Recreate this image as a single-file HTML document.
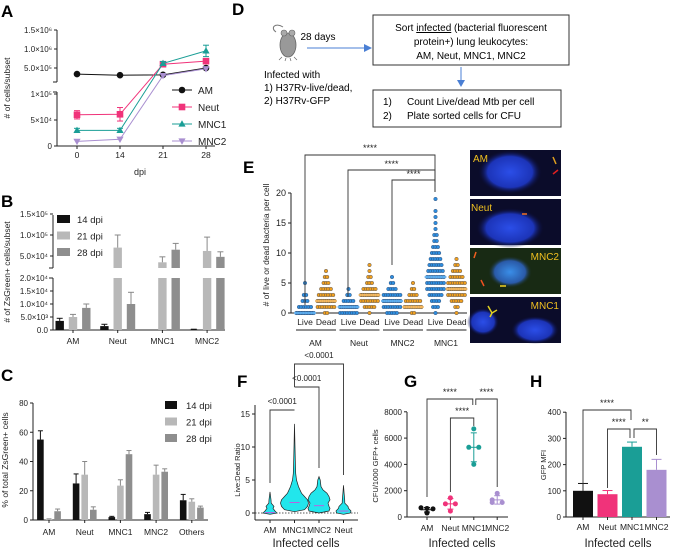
<!DOCTYPE html>
<html><head><meta charset="utf-8"><style>
html,body{margin:0;padding:0;background:#fff;}
svg{display:block;font-family:"Liberation Sans",Arial,sans-serif;}
</style></head><body>
<svg id="fig" width="673" height="548" viewBox="0 0 673 548" xmlns="http://www.w3.org/2000/svg">
<defs>
<radialGradient id="blob" cx="50%" cy="50%" r="50%"><stop offset="0" stop-color="#2b4ee8"/><stop offset="0.7" stop-color="#1c34b8"/><stop offset="1" stop-color="#0a0a30" stop-opacity="0"/></radialGradient>
<radialGradient id="blob2" cx="50%" cy="50%" r="50%"><stop offset="0" stop-color="#3a8ee8"/><stop offset="0.7" stop-color="#2a5aa8"/><stop offset="1" stop-color="#1a2a18" stop-opacity="0"/></radialGradient>
</defs>
<text x="1" y="17" font-size="17" font-weight="bold">A</text>
<text x="1" y="207" font-size="17" font-weight="bold">B</text>
<text x="1" y="381" font-size="17" font-weight="bold">C</text>
<text x="232" y="15" font-size="17" font-weight="bold">D</text>
<text x="243" y="173" font-size="17" font-weight="bold">E</text>
<text x="237" y="387" font-size="17" font-weight="bold">F</text>
<text x="404" y="387" font-size="17" font-weight="bold">G</text>
<text x="530" y="387" font-size="17" font-weight="bold">H</text>

<text transform="translate(10,88) rotate(-90)" font-size="8.5" text-anchor="middle" fill="#222"># of cells/subset</text>
<text x="140" y="175" font-size="9" text-anchor="middle" fill="#222">dpi</text>
<text transform="translate(10,272) rotate(-90)" font-size="8.5" text-anchor="middle" fill="#222"># of ZsGreen+ cells/subset</text>
<text transform="translate(8,460) rotate(-90)" font-size="8.5" text-anchor="middle" fill="#222">% of total ZsGreen+ cells</text>
<text transform="translate(269,245) rotate(-90)" font-size="8.5" text-anchor="middle" fill="#222"># of live or dead bacteria per cell</text>
<text transform="translate(240,470) rotate(-90)" font-size="7.5" text-anchor="middle" fill="#222">Live:Dead Ratio</text>
<text x="306" y="547" font-size="11.5" text-anchor="middle" fill="#222">Infected cells</text>
<text transform="translate(378,466) rotate(-90)" font-size="7.5" text-anchor="middle" fill="#222">CFU/1000  GFP+ cells</text>
<text x="462" y="547" font-size="11.5" text-anchor="middle" fill="#222">Infected cells</text>
<text transform="translate(546,465) rotate(-90)" font-size="7.5" text-anchor="middle" fill="#222">GFP MFI</text>
<text x="618" y="547" font-size="11.5" text-anchor="middle" fill="#222">Infected cells</text>

<g>
<path d="M283,27 C275,22 270,28 276,32" fill="none" stroke="#777" stroke-width="1"/>
<ellipse cx="288" cy="45" rx="8" ry="12" fill="#999" stroke="#666" stroke-width="0.8"/>
<circle cx="284" cy="33" r="3" fill="#aaa" stroke="#666" stroke-width="0.6"/>
<circle cx="292" cy="33" r="3" fill="#aaa" stroke="#666" stroke-width="0.6"/>
<path d="M282,57 l-3,3 M286,58 l-1,3 M290,58 l1,3 M294,57 l3,3" stroke="#666" stroke-width="0.7"/>
</g>
<text x="318" y="40" font-size="10" text-anchor="middle">28 days</text>
<line x1="307" y1="48" x2="366" y2="48" stroke="#4a7fd4" stroke-width="1"/>
<polygon points="372,48 364,44 364,52" fill="#4a7fd4"/>
<text x="264" y="78" font-size="10">Infected with</text>
<text x="264" y="91" font-size="10">1) H37Rv-live/dead,</text>
<text x="264" y="104" font-size="10">2) H37Rv-GFP</text>
<rect x="373" y="15" width="196" height="50" fill="#fff" stroke="#333" stroke-width="1"/>
<text x="471" y="31" font-size="10" text-anchor="middle">Sort <tspan text-decoration="underline">infected</tspan> (bacterial fluorescent</text>
<text x="471" y="45" font-size="10" text-anchor="middle">protein+) lung leukocytes:</text>
<text x="471" y="59" font-size="10" text-anchor="middle">AM, Neut, MNC1, MNC2</text>
<line x1="461" y1="67" x2="461" y2="81" stroke="#4a7fd4" stroke-width="1"/>
<polygon points="461,87 457,80 465,80" fill="#4a7fd4"/>
<rect x="373" y="90" width="188" height="37" fill="#fff" stroke="#333" stroke-width="1"/>
<text x="383" y="105" font-size="10">1)</text>
<text x="407" y="105" font-size="10">Count Live/dead Mtb per cell</text>
<text x="383" y="119" font-size="10">2)</text>
<text x="407" y="119" font-size="10">Plate sorted cells for CFU</text>

<g>
<rect x="470" y="150" width="91" height="46" fill="#0b0c2a"/>
<ellipse cx="510" cy="172" rx="32" ry="22" fill="url(#blob)"/>
<line x1="553" y1="157" x2="556" y2="164" stroke="#e0a020" stroke-width="1.5"/>
<line x1="553" y1="174" x2="558" y2="170" stroke="#e02020" stroke-width="1.5"/>
<text x="473" y="162" font-size="10" fill="#f0c020">AM</text>
</g>
<g>
<rect x="470" y="199" width="91" height="46" fill="#0b0c2a"/>
<ellipse cx="510" cy="228" rx="34" ry="20" fill="url(#blob)"/>
<line x1="522" y1="214" x2="527" y2="214" stroke="#f07020" stroke-width="1.5"/>
<text x="471" y="211" font-size="10" fill="#f0c020">Neut</text>
</g>
<g>
<rect x="470" y="248" width="91" height="46" fill="#182a14"/>
<ellipse cx="510" cy="272" rx="22" ry="16" fill="url(#blob2)"/>
<line x1="474" y1="258" x2="476" y2="252" stroke="#f06020" stroke-width="1.5"/>
<line x1="500" y1="286" x2="506" y2="286" stroke="#f0d020" stroke-width="1.5"/>
<line x1="481" y1="280" x2="484" y2="286" stroke="#f05020" stroke-width="1.5"/>
<text x="559" y="260" font-size="10" fill="#f0c020" text-anchor="end">MNC2</text>
</g>
<g>
<rect x="470" y="297" width="91" height="46" fill="#0b0c2a"/>
<ellipse cx="483" cy="322" rx="16" ry="14" fill="url(#blob)"/>
<ellipse cx="535" cy="330" rx="24" ry="14" fill="url(#blob)"/>
<path d="M488,306 l4,7 l5,-3 M492,313 l-2,4" stroke="#e0d020" stroke-width="1.5" fill="none"/>
<text x="559" y="309" font-size="10" fill="#f0c020" text-anchor="end">MNC1</text>
</g>
</svg>
<script>
// Panel A
const aDays = ['0','14','21','28'];
const aAM = [340000, 310000, 320000, 500000];
const aNeut = [60000, 61000, 600000, 680000];
const aNeutErr = [8000, 13000, 40000, 40000];
const aMNC1 = [30000, 30000, 620000, 950000];
const aMNC1Err = [4000, 4000, 50000, 150000];
const aMNC2 = [9000, 13000, 300000, 480000];
const aTicksLow = [0, 50000, 100000];
const aTicksLowLabels = ['0', '5×10⁴', '1×10⁵'];
const aTicksHigh = [500000, 1000000, 1500000];
const aTicksHighLabels = ['5.0×10⁵', '1.0×10⁶', '1.5×10⁶'];
const aSeriesNames = ['AM', 'Neut', 'MNC1', 'MNC2'];
// Panel B
const bCats = ['AM', 'Neut', 'MNC1', 'MNC2'];
const bDays = ['14 dpi', '21 dpi', '28 dpi'];
const b14 = [3500, 1500, 0, 200];
const b14Err = [1000, 700, 0, 100];
const b21 = [5000, 70000, 35000, 62000];
const b21Err = [1000, 30000, 13000, 33000];
const b28 = [8500, 10000, 65000, 48000];
const b28Err = [1500, 4500, 15000, 12000];
const bTicksLow = [0, 5000, 10000, 15000, 20000];
const bTicksLowLabels = ['0.0', '5.0×10³', '1.0×10⁴', '1.5×10⁴', '2.0×10⁴'];
const bTicksHigh = [50000, 100000, 150000];
const bTicksHighLabels = ['5.0×10⁴', '1.0×10⁵', '1.5×10⁵'];
// Panel C
const cCats = ['AM', 'Neut', 'MNC1', 'MNC2', 'Others'];
const c14 = [55, 25, 2, 4, 13.5];
const c14Err = [6, 6.5, 0.5, 1.2, 4];
const c21 = [0.5, 31, 23.5, 31, 12.5];
const c21Err = [0.3, 9, 4, 6.5, 2];
const c28 = [6, 7, 45, 33, 8.5];
const c28Err = [1.5, 2, 2.5, 2, 1];
const cTicks = [0, 20, 40, 60, 80];
// Panel E
const eGroups = ['AM', 'Neut', 'MNC2', 'MNC1'];
const eLiveCounts = [
  {0:12,1:6,2:3,3:2,5:1},
  {0:8,1:10,2:5,3:2,4:1},
  {0:5,1:8,2:10,3:8,4:4,5:2,6:1},
  {0:1,1:3,2:4,3:6,4:8,5:8,6:8,7:7,8:6,9:5,10:4,11:3,12:2,13:2,14:1,15:1,16:1,17:1,19:1}
];
const eDeadCounts = [
  {0:2,1:8,2:10,3:7,4:5,5:3,6:2,7:1},
  {0:1,1:5,2:8,3:10,4:6,5:3,6:2,7:1,8:1},
  {0:2,1:8,2:7,3:4,4:2,5:1},
  {0:1,1:2,2:5,3:8,4:10,5:8,6:6,7:4,8:2,9:1}
];
const eLiveMedian = [0, 1, 2, 6];
const eDeadMedian = [2, 3, 1, 4];
const eTicks = [0, 5, 10, 15, 20];
// Panel F
const fCats = ['AM', 'MNC1', 'MNC2', 'Neut'];
const fVals = [
  [-0.2, 0, 0.3, 0.7, 1, 1.5, 2, 3.2],
  [0.2, 0.5, 1, 1.5, 2, 2.5, 3, 4, 5, 6, 8, 10, 13.5],
  [0, 0.3, 0.7, 1, 1.5, 2, 2.5, 3, 3.5, 4, 5, 5.5],
  [-0.2, 0, 0.3, 0.7, 1, 1.5, 2, 3, 4.2]
];
const fDensity = [
  [0, 7, 5, 3, 4, 1.2, 1, 0],
  [0, 10, 13, 14, 13, 10, 7, 4, 2, 1.2, 0.8, 0.5, 0],
  [0, 10, 11, 10, 9, 11, 10, 8, 4, 2, 1.2, 0],
  [0, 7, 7.5, 5, 4.5, 1.3, 1.2, 0.6, 0]
];
const fMedian = [0.05, 1.6, 1.1, 0.3];
const fTicks = [0, 5, 10, 15];
// Panel G
const gCats = ['AM', 'Neut', 'MNC1', 'MNC2'];
const gPoints = [[700, 620, 650, 300], [1450, 1000, 1000, 450], [6700, 5300, 5300, 4000], [1800, 1300, 1100, 1100]];
const gMean = [550, 1000, 5300, 1300];
const gSD = [170, 400, 1100, 320];
const gTicks = [0, 2000, 4000, 6000, 8000];
// Panel H
const hCats = ['AM', 'Neut', 'MNC1', 'MNC2'];
const hVals = [100, 87, 268, 180];
const hErr = [28, 14, 18, 40];
const hTicks = [0, 100, 200, 300, 400];

const NS = 'http://www.w3.org/2000/svg';
const svg = document.getElementById('fig');
function mk(tag, a, p) { const e = document.createElementNS(NS, tag); for (const k in a) e.setAttribute(k, a[k]); (p || svg).appendChild(e); return e; }
function tx(str, x, y, size, anchor, p) { const t = mk('text', {x: x, y: y, 'font-size': size, 'text-anchor': anchor || 'middle', fill: '#222'}, p); t.textContent = str; return t; }
function grp(name) { const g = mk('g', {});   return g; }
function ln(x1, y1, x2, y2, p, col, w) { return mk('line', {x1: x1, y1: y1, x2: x2, y2: y2, stroke: col || '#222', 'stroke-width': w || 1}, p); }
function yAxis(p, x, vals, labels, yf, y0, y1, fs) {
  ln(x, y0, x, y1, p);
  vals.forEach((v, i) => { ln(x - 3, yf(v), x, yf(v), p); const t = tx(labels[i], x - 5, yf(v) + 3, fs || 8, 'end', p);   });
}
function errBar(p, x, y, yTop, col, hw) { ln(x, y, x, yTop, p, col); ln(x - hw, yTop, x + hw, yTop, p, col); }
function bracket(p, x1, x2, y, yl1, yl2, label, ly) {
  mk('path', {d: `M${x1},${yl1} L${x1},${y} L${x2},${y} L${x2},${yl2}`, fill: 'none', stroke: '#333', 'stroke-width': 0.9}, p);
  const t = tx(label, (x1 + x2) / 2, ly, label[0] === '<' ? 8 : 9, 'middle', p);
   
}

// PANEL A
(function () {
  const g = grp('panel-a-chart');
  const xA = i => 77 + i * 43;
  const yA = v => v <= 100000 ? 146 - v / 100000 * 52 : 68 - (v - 500000) / 500000 * 19;
  yAxis(g, 57, aTicksHigh, aTicksHighLabels, yA, 30, 82);
  ln(53, 82, 57, 82, g);
  yAxis(g, 57, aTicksLow, aTicksLowLabels, yA, 92, 146);
  ln(53, 92, 57, 92, g);
  ln(57, 146, 215, 146, g);
  aDays.forEach((d, i) => { ln(xA(i), 146, xA(i), 149, g); const t = tx(d, xA(i), 158, 8.5, 'middle', g);   });
  const series = [[aAM, null, '#111', 'circle'], [aNeut, aNeutErr, '#f0337a', 'square'], [aMNC1, aMNC1Err, '#1a9e96', 'tri'], [aMNC2, null, '#a98fd0', 'itri']];
  function marker(p, shape, x, y, col) {
    if (shape === 'circle') return mk('circle', {cx: x, cy: y, r: 3.3, fill: col}, p);
    if (shape === 'square') return mk('rect', {x: x - 3.3, y: y - 3.3, width: 6.6, height: 6.6, fill: col}, p);
    if (shape === 'tri') return mk('polygon', {points: `${x},${y - 3.8} ${x - 3.6},${y + 2.6} ${x + 3.6},${y + 2.6}`, fill: col}, p);
    return mk('polygon', {points: `${x},${y + 3.8} ${x - 3.6},${y - 2.6} ${x + 3.6},${y - 2.6}`, fill: col}, p);
  }
  series.forEach((s, si) => {
    const sg = mk('g', {}, g);
    
    
    const pts = s[0].map((v, i) => `${xA(i)},${yA(v)}`).join(' ');
    mk('polyline', {points: pts, fill: 'none', stroke: s[2], 'stroke-width': 1}, sg);
    s[0].forEach((v, i) => {
      if (s[1]) { errBar(sg, xA(i), yA(v), yA(v + s[1][i]), s[2], 3); errBar(sg, xA(i), yA(v), yA(Math.max(0, v - s[1][i])), s[2], 3); }
      const m = marker(sg, s[3], xA(i), yA(v), s[2]);
      
      
    });
    const ly = 90 + si * 17;
    const lg = mk('g', {}, g);
    
    
    ln(172, ly, 192, ly, lg, s[2]);
    marker(lg, s[3], 182, ly, s[2]);
    tx(aSeriesNames[si], 198, ly + 4, 10, 'start', lg);
  });
})();

// PANEL B
(function () {
  const g = grp('panel-b-chart');
  const yLow = v => 330 - Math.min(v, 20000) / 20000 * 52;
  const yHigh = v => 256 - (v - 50000) / 50000 * 21;
  const yB = v => v <= 20000 ? yLow(v) : yHigh(v);
  yAxis(g, 53, bTicksHigh, bTicksHighLabels, yHigh, 215, 268);
  ln(49, 268, 53, 268, g);
  yAxis(g, 53, bTicksLow, bTicksLowLabels, yLow, 278, 330);
  ln(49, 278, 53, 278, g);
  ln(53, 330, 225, 330, g);
  const cols = ['#111', '#b8b8b8', '#8e8e8e'];
  const data = [[b14, b14Err], [b21, b21Err], [b28, b28Err]];
  bCats.forEach((c, ci) => {
    const cx = 73 + ci * 44.7;
    ln(cx, 330, cx, 333, g);
    const t = tx(c, cx, 344, 8.5, 'middle', g);  
    data.forEach((d, di) => {
      const v = d[0][ci], e = d[1][ci], x = cx + (di - 1) * 13.3 - 4.2;
      const top = yB(v);
      if (v > 20000) {
        const r1 = mk('rect', {x: x, y: 278, width: 8.4, height: 52, fill: cols[di]}, g);
         
        const r2 = mk('rect', {x: x, y: top, width: 8.4, height: 268 - top, fill: cols[di]}, g);
         
      } else {
        const r = mk('rect', {x: x, y: top, width: 8.4, height: 330 - top, fill: cols[di]}, g);
         
      }
      if (e > 0) errBar(g, x + 4.2, top, yB(v + e), cols[di] === '#111' ? '#111' : '#888', 3);
    });
  });
  bDays.forEach((d, di) => {
    const lg = mk('g', {}, g);
    
    
    mk('rect', {x: 57, y: 215 + di * 16.5, width: 13, height: 8, fill: cols[di]}, lg);
    tx(d, 77, 223 + di * 16.5, 9.5, 'start', lg);
  });
})();

// PANEL C
(function () {
  const g = grp('panel-c-chart');
  const yC = v => 520 - v / 80 * 117;
  yAxis(g, 33, cTicks, cTicks.map(String), yC, 403, 520);
  ln(33, 520, 208, 520, g);
  const cols = ['#111', '#b8b8b8', '#8e8e8e'];
  const data = [[c14, c14Err], [c21, c21Err], [c28, c28Err]];
  cCats.forEach((c, ci) => {
    const cx = 49 + ci * 35.7;
    ln(cx, 520, cx, 523, g);
    const t = tx(c, cx, 535, 8.5, 'middle', g);  
    data.forEach((d, di) => {
      const v = d[0][ci], e = d[1][ci], x = cx + (di - 1) * 8.6 - 3.3;
      const r = mk('rect', {x: x, y: yC(v), width: 6.6, height: 520 - yC(v), fill: cols[di]}, g);
       
      errBar(g, x + 3.3, yC(v), yC(v + e), cols[di] === '#111' ? '#111' : '#888', 2.5);
    });
  });
  ['14 dpi', '21 dpi', '28 dpi'].forEach((d, di) => {
    const lg = mk('g', {}, g);
    
    
    mk('rect', {x: 165, y: 401 + di * 16.5, width: 12, height: 8, fill: cols[di]}, lg);
    tx(d, 186, 409 + di * 16.5, 9.5, 'start', lg);
  });
})();

// PANEL E
(function () {
  const g = grp('panel-e-chart');
  const yE = v => 313 - v * 6;
  yAxis(g, 291, eTicks, eTicks.map(String), yE, 193, 313, 9);
  ln(291, 313, 467, 313, g);
  const liveCol = '#2f8fe0', deadCol = '#f0a020';
  function column(cx, counts, col, med, name) {
    const cg = mk('g', {}, g);
    
    
    Object.keys(counts).forEach(k => {
      const v = +k, n = counts[k];
      const sp = Math.min(2.4, 19 / Math.max(n, 1));
      for (let j = 0; j < n; j++) mk('circle', {cx: cx + (j - (n - 1) / 2) * sp, cy: yE(v), r: 1.8, fill: col, stroke: '#1a2a4a', 'stroke-width': 0.35}, cg);
    });
    ln(cx - 11, yE(med), cx + 11, yE(med), cg, col === liveCol ? '#6ab8f5' : '#f8c070', 1.5);
  }
  eGroups.forEach((gname, gi) => {
    const xl = 305 + gi * 43.5, xd = xl + 21;
    column(xl, eLiveCounts[gi], liveCol, eLiveMedian[gi], 'dots-live-' + gname.toLowerCase());
    column(xd, eDeadCounts[gi], deadCol, eDeadMedian[gi], 'dots-dead-' + gname.toLowerCase());
    [['Live', xl], ['Dead', xd]].forEach(p => { const t = tx(p[0], p[1], 325, 8.5, 'middle', g);   });
    ln(xl - 9, 330, xd + 10, 330, g);
    const t = tx(gname, (xl + xd) / 2, 346, 8.5, 'middle', g);  
  });
  bracket(g, 305, 435, 155, 305, 192, '****', 151);
  bracket(g, 348, 435, 170, 297, 192, '****', 167);
  bracket(g, 392, 435, 180, 265, 192, '****', 177);
})();

// PANEL F
(function () {
  const g = grp('panel-f-chart');
  const yF = v => 513 - v * 6.6;
  const xF = i => 270 + i * 24.5;
  yAxis(g, 255, fTicks, fTicks.map(String), yF, 405, 520, 8.5);
  ln(255, 520, 358, 520, g);
  mk('line', {x1: 255, y1: yF(0), x2: 358, y2: yF(0), stroke: '#222', 'stroke-width': 0.8, 'stroke-dasharray': '1.5,1.5'}, g);
  fCats.forEach((c, ci) => {
    const cx = xF(ci);
    const right = fVals[ci].map((v, k) => `${cx + fDensity[ci][k]},${yF(v)}`);
    const left = fVals[ci].map((v, k) => `${cx - fDensity[ci][k]},${yF(v)}`).reverse();
    const vp = mk('polygon', {points: right.concat(left).join(' '), fill: '#22e6ec', stroke: '#222', 'stroke-width': 0.7}, g);
    
    
    ln(cx - 5, yF(fMedian[ci]), cx + 5, yF(fMedian[ci]), g, '#e040e0', 0.8);
    ln(cx, 520, cx, 523, g);
    const t = tx(c, cx, 533, 8.5, 'middle', g);  
  });
  bracket(g, xF(1), xF(3), 364, 387, 475, '<0.0001', 358);
  bracket(g, xF(1), xF(2), 387, 387, 468, '<0.0001', 381);
  bracket(g, xF(0), xF(1), 410, 483, 410, '<0.0001', 404);
})();

// PANEL G
(function () {
  const g = grp('panel-g-chart');
  const yG = v => 517 - v / 2000 * 26.3;
  const xG = i => 427 + i * 23.4;
  yAxis(g, 407, gTicks, gTicks.map(String), yG, 412, 517, 8);
  ln(407, 517, 508, 517, g);
  const cols = ['#111', '#f0337a', '#1a9e96', '#a98fd0'];
  gCats.forEach((c, ci) => {
    const cx = xG(ci);
    ln(cx, 517, cx, 520, g);
    const t = tx(c, cx, 531, 8.5, 'middle', g);  
    const m = gMean[ci], s = gSD[ci];
    ln(cx - 6, yG(m), cx + 6, yG(m), g, cols[ci]);
    ln(cx, yG(m - s), cx, yG(m + s), g, cols[ci]);
    ln(cx - 3, yG(m - s), cx + 3, yG(m - s), g, cols[ci]);
    ln(cx - 3, yG(m + s), cx + 3, yG(m + s), g, cols[ci]);
    const offs = [0, -5, 5, 0];
    gPoints[ci].forEach((v, k) => {
      let dx = 0;
      if (ci === 0) dx = [-6, 6, 0, 0][k]; else dx = offs[k];
      if (gPoints[ci].filter(w => w === v).length > 1) dx = gPoints[ci].indexOf(v) === k ? -5 : 5;
      const p = mk('circle', {cx: cx + dx, cy: yG(v), r: 2.5, fill: cols[ci]}, g);
      
      
    });
  });
  bracket(g, xG(0), xG(2) - 1, 399, 497, 405, '****', 395);
  bracket(g, xG(2) + 2, xG(3), 399, 405, 487, '****', 395);
  bracket(g, xG(1), xG(2), 418, 492, 426, '****', 414);
})();

// PANEL H
(function () {
  const g = grp('panel-h-chart');
  const yH = v => 517 - v / 100 * 26.2;
  const xH = i => 583 + i * 24.5;
  yAxis(g, 566, hTicks, hTicks.map(String), yH, 412, 517, 8);
  ln(566, 517, 670, 517, g);
  const cols = ['#111', '#f0337a', '#1a9e96', '#a98fd0'];
  hCats.forEach((c, ci) => {
    const cx = xH(ci), v = hVals[ci];
    const r = mk('rect', {x: cx - 10, y: yH(v), width: 20, height: 517 - yH(v), fill: cols[ci]}, g);
    
    
    errBar(g, cx, yH(v), yH(v + hErr[ci]), cols[ci], 5);
    ln(cx, 517, cx, 520, g);
    const t = tx(c, cx, 530, 8.5, 'middle', g);  
  });
  bracket(g, xH(0), xH(2) - 1, 410, 490, 420, '****', 406);
  bracket(g, xH(1), xH(2) - 2, 429, 488, 438, '****', 425);
  bracket(g, xH(2) + 2, xH(3), 429, 438, 455, '**', 425);
})();
</script>
</body></html>
